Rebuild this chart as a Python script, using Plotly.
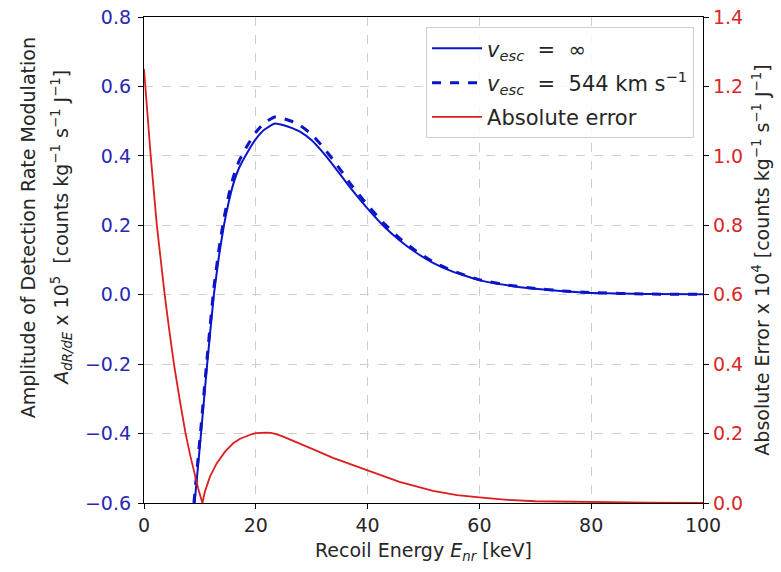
import plotly.graph_objects as go

# Recoil energy grid for the amplitude curves [keV]
E_inf = [9.05, 10.2, 11.3, 12.5, 13.4, 14.3, 15.2, 16.0, 17.0, 18.5, 20.0, 21.5, 23.4, 25.0, 26.5,
         27.9, 30.0, 32.0, 34.0, 37.0, 40.0, 43.0, 45.7, 48.5, 51.7, 55.0, 60.0, 65.0, 70.0,
         75.0, 80.0, 90.0, 100.0]
A_inf = [-0.6, -0.4, -0.2, 0.0, 0.11, 0.2, 0.27, 0.32, 0.365, 0.41, 0.448, 0.475, 0.493, 0.488, 0.48,
         0.47, 0.445, 0.41, 0.37, 0.306, 0.248, 0.196, 0.157, 0.123, 0.092, 0.068, 0.042, 0.027, 0.017,
         0.01, 0.005, 0.002, 0.001]

E_esc = [8.93, 10.2, 11.3, 12.5, 13.4, 14.3, 15.2, 16.0, 17.0, 18.5, 20.0, 21.5, 23.4, 25.0, 26.5,
         27.9, 30.0, 32.0, 34.0, 37.0, 40.0, 43.0, 45.7, 48.5, 51.7, 55.0, 60.0, 65.0, 70.0,
         75.0, 80.0, 90.0, 100.0]
A_esc = [-0.6, -0.38, -0.18, 0.02, 0.13, 0.22, 0.29, 0.34, 0.385, 0.43, 0.468, 0.495, 0.512, 0.507, 0.499,
         0.488, 0.462, 0.426, 0.385, 0.318, 0.258, 0.204, 0.163, 0.128, 0.095, 0.07, 0.043, 0.028, 0.018,
         0.011, 0.006, 0.002, 0.001]

# Absolute error curve (right axis)
E_err = [0, 0.6, 1.2, 2.3, 3.0, 3.7, 4.5, 5.36, 6.4, 7.44, 8.3, 9.0, 9.8, 10.45, 10.9, 11.8,
         13.0, 14.5, 15.95, 17.2, 18.3, 19.2, 20.0, 21.0, 21.9, 22.7, 23.5, 24.9, 26.3, 27.9, 30.5,
         33.8, 37.0, 40.0, 45.7, 51.7, 56.0, 60.0, 65.0, 70.0, 80.0, 90.0, 100.0]
Err = [1.25, 1.125, 1.0, 0.8, 0.695, 0.6, 0.5, 0.4, 0.296, 0.2, 0.135, 0.088, 0.035, 0.0, 0.033, 0.076,
       0.114, 0.148, 0.172, 0.185, 0.193, 0.198, 0.201, 0.203, 0.203, 0.202, 0.199, 0.191, 0.182, 0.172, 0.153,
       0.13, 0.111, 0.095, 0.061, 0.035, 0.023, 0.016, 0.009, 0.005, 0.002, 0.001, 0.0]

left_ticks = [-0.6, -0.4, -0.2, 0.0, 0.2, 0.4, 0.6, 0.8]
right_ticks = [0.0, 0.2, 0.4, 0.6, 0.8, 1.0, 1.2, 1.4]
x_ticks = [0, 20, 40, 60, 80, 100]

left_title_1 = "Amplitude of Detection Rate Modulation"
left_title_2 = ("<i>A</i><sub><i>dR/dE</i></sub> x 10<sup>5</sup>  "
                "[counts kg<sup>−1</sup> s<sup>−1</sup> J<sup>−1</sup>]")
right_title = "Absolute Error x 10<sup>4</sup> [counts kg<sup>−1</sup> s<sup>−1</sup> J<sup>−1</sup>]"
x_title = "Recoil Energy <i>E</i><sub><i>nr</i></sub> [keV]"

BLUE = "#0a14c8"
RED = "#dc1e1e"
FONT = "DejaVu Sans"
FS = 19

fig = go.Figure()
fig.add_trace(go.Scatter(x=E_inf, y=A_inf, mode="lines", legendgroup="a",
                         line=dict(color=BLUE, width=2, shape="spline", smoothing=0.4),
                         name="<i>v</i><sub><i>esc</i></sub>  =  ∞"))
fig.add_trace(go.Scatter(x=E_esc, y=A_esc, mode="lines", legendgroup="b",
                         line=dict(color=BLUE, width=3, dash="dash", shape="spline", smoothing=0.4),
                         name="<i>v</i><sub><i>esc</i></sub>  =  544 km s<sup>−1</sup>"))
fig.add_trace(go.Scatter(x=E_err, y=Err, mode="lines", legendgroup="c",
                         line=dict(color=RED, width=1.8),
                         name="Absolute error", yaxis="y2"))

fig.update_layout(
    width=781, height=572,
    margin=dict(l=144, r=78, t=17, b=69),
    plot_bgcolor="white", paper_bgcolor="white",
    font=dict(family=FONT, size=FS, color="#262626"),
    showlegend=True,
    legend=dict(x=0.984, y=0.979, xanchor="right", yanchor="top", itemwidth=50,
                bgcolor="rgba(255,255,255,0.85)", bordercolor="#d0d0d0", borderwidth=1,
                font=dict(size=21, color="#262626"), tracegroupgap=4),
    xaxis=dict(range=[0, 100], tickvals=x_ticks, ticks="outside", ticklen=5, tickcolor="black",
               showline=True, linecolor="black", linewidth=1.3, mirror=True, automargin=False,
               showgrid=True, gridcolor="#cfcfcf", griddash="dash", gridwidth=1, zeroline=False,
               ticklabeloverflow="allow",
               tickfont=dict(size=FS, color="#262626"),
               title=dict(text=x_title, font=dict(size=FS), standoff=8)),
    yaxis=dict(range=[-0.6, 0.8], tickvals=left_ticks, tickformat=".1f", ticks="outside", ticklen=5,
               tickcolor="black", showline=True, linecolor="black", linewidth=1.3, automargin=False,
               showgrid=True, gridcolor="#cfcfcf", griddash="dash", gridwidth=1, zeroline=False,
               ticklabelstandoff=3, ticklabeloverflow="allow",
               tickfont=dict(size=FS, color="#2828b4")),
    yaxis2=dict(range=[0, 1.4], tickvals=right_ticks, tickformat=".1f", overlaying="y", side="right",
                ticks="outside", ticklen=5, tickcolor="black", showline=True, linecolor="black", linewidth=1.3,
                showgrid=False, zeroline=False, automargin=False, ticklabeloverflow="allow",
                tickfont=dict(size=FS, color="#d82828"),
                title=dict(text=right_title, font=dict(size=FS), standoff=13)),
    annotations=[
        dict(text=left_title_1, xref="paper", yref="paper", x=-0.207, y=0.566,
             xanchor="center", yanchor="middle", textangle=-90, showarrow=False,
             font=dict(size=FS, color="#262626")),
        dict(text=left_title_2, xref="paper", yref="paper", x=-0.147, y=0.566,
             xanchor="center", yanchor="middle", textangle=-90, showarrow=False,
             font=dict(size=FS, color="#262626")),
    ],
)

fig.write_html("out.html", config={"displayModeBar": False},
               post_script="document.body.style.margin='0';")
